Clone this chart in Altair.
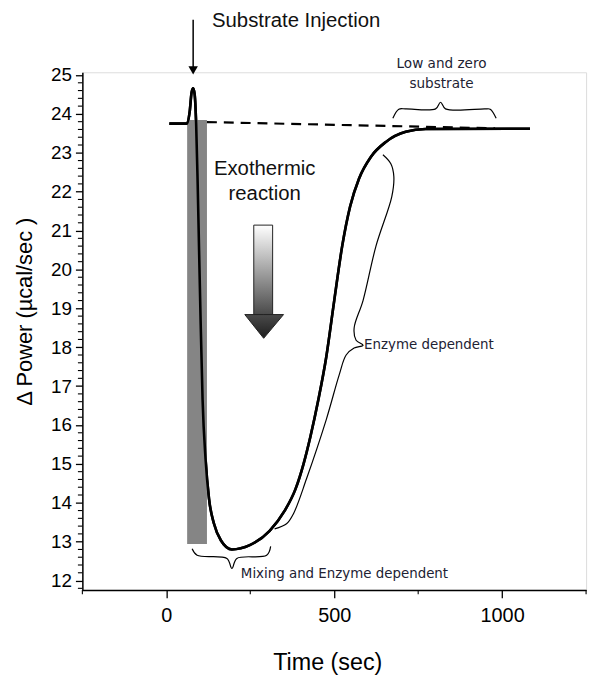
import altair as alt
import pandas as pd
import numpy as np

# ---------------- data ----------------
time_s = [9, 62, 69.5, 75.4, 79.9, 84.3, 88.8, 93.2, 97.6, 102.1, 108.0, 116.9, 127.2,
          142.0, 162.7, 195.3, 248.5, 307.7, 352.1, 384.6, 408.3, 429.0, 452.7, 476.3, 500,
          523.7, 547.3, 574.0, 609.5, 653.8, 713, 772.2, 1083]
power = [23.75, 23.75, 24.05, 24.56, 24.66, 24.51, 23.75, 22.26, 20.48, 18.69, 16.65, 15.12,
         14.10, 13.46, 13.03, 12.80, 12.91, 13.28, 13.79, 14.35, 14.99, 15.70, 16.65, 17.75,
         19.20, 20.60, 21.62, 22.34, 22.90, 23.28, 23.54, 23.61, 23.62]

baseline_t = [121, 979]
baseline_p = [23.79, 23.63]

mix_bar_t = [62, 121]
mix_bar_p = [12.94, 23.84]

brace_low_t = [674.6, 692.3, 713, 801.8, 816.6, 831.4, 949.7, 964.5, 982.2]
brace_low_p = [23.89, 24.12, 24.13, 24.13, 24.30, 24.13, 24.13, 24.12, 23.89]

brace_mix_t = [76.9, 91.7, 180.5, 195.3, 210.1, 298.8, 310.7]
brace_mix_p = [12.82, 12.65, 12.57, 12.31, 12.57, 12.65, 12.88]

brace_enz_t = [645, 668.6, 677.5, 671.6, 624.3, 585.8, 559.2, 565.1, 585.8,
               559.2, 535.5, 514.8, 476.3, 417.2, 378.7, 358, 322.5]
brace_enz_p = [22.95, 22.72, 22.39, 21.88, 20.60, 19.20, 18.49, 18.18, 18.05,
               17.98, 17.80, 17.29, 16.14, 14.61, 13.72, 13.46, 13.33]

inj_t = [79.9, 79.9]
inj_p = [26.42, 25.12]

exo_body_t = [260.4, 316.6]
exo_body_p = [18.84, 21.14]
exo_head_t = [233.7, 289.9, 349.1]
exo_head_top = [18.84, 18.84, 18.84]
exo_head_tip = [18.84, 18.23, 18.84]

Y_DOMAIN = [11.76, 25.07]
X_DOMAIN = [-250, 1250]
y_major = list(range(12, 26))
x_major = [0, 500, 1000]
x_minor = [-250, 250, 750, 1250]
y_minor = [round(v, 1) for v in np.arange(11.8, 25.05, 0.2) if abs(v - round(v)) > 0.05]

# ---------------- styling ----------------
W, H = 508, 522
LABEL_FONT = "Liberation Sans Narrow, Arial Narrow, Liberation Sans"
MAIN_FONT = "Liberation Sans, Arial"
NOTE_FONT = "DejaVu Sans"
MINOR_LEN = 4.5

xs = alt.Scale(domain=X_DOMAIN, nice=False, zero=False)
ys = alt.Scale(domain=Y_DOMAIN, nice=False, zero=False)
X_PER_PX = (X_DOMAIN[1] - X_DOMAIN[0]) / W
Y_PER_PX = (Y_DOMAIN[1] - Y_DOMAIN[0]) / H

curve_df = pd.DataFrame({"t": time_s, "p": power})
main = alt.Chart(curve_df).mark_line(color="black", strokeWidth=2.6, interpolate="monotone").encode(
    x=alt.X("t:Q", scale=xs, axis=alt.Axis(
        values=x_major, format="d", title="Time (sec)", titleFont=MAIN_FONT, titleFontSize=23.5,
        titleFontWeight="normal", titleColor="black", titleX=247, titleY=73, titleBaseline="middle",
        labelFont=LABEL_FONT, labelFontSize=20, labelColor="black", labelPadding=8,
        tickSize=8, tickColor="black", tickWidth=1.3, domainColor="black", domainWidth=1.5,
        grid=False)),
    y=alt.Y("p:Q", scale=ys, axis=alt.Axis(
        values=y_major, title="Δ Power (µcal/sec )", titleFont=MAIN_FONT, titleFontSize=22,
        titleFontWeight="normal", titleColor="black", titleX=-46, titleY=241,
        titleBaseline="bottom", titleAngle=-90,
        labelFont=LABEL_FONT, labelFontSize=19, labelColor="black", labelPadding=4,
        tickSize=7, tickColor="black", tickWidth=1.3, domainColor="black", domainWidth=1.5,
        grid=False)),
)

bar = alt.Chart(pd.DataFrame({"t": [mix_bar_t[0]], "t2": [mix_bar_t[1]],
                              "p": [mix_bar_p[0]], "p2": [mix_bar_p[1]]})).mark_rect(
    color="#858585").encode(x=alt.X("t:Q", scale=xs), x2="t2:Q",
                            y=alt.Y("p:Q", scale=ys), y2="p2:Q")

base = alt.Chart(pd.DataFrame({"t": baseline_t, "p": baseline_p})).mark_line(
    color="black", strokeWidth=2.2, strokeDash=[10, 7]).encode(
    x=alt.X("t:Q", scale=xs), y=alt.Y("p:Q", scale=ys))


def brace(ts, ps):
    df = pd.DataFrame({"t": ts, "p": ps, "o": list(range(len(ts)))})
    return alt.Chart(df).mark_line(color="black", strokeWidth=1.2, interpolate="catmull-rom").encode(
        x=alt.X("t:Q", scale=xs), y=alt.Y("p:Q", scale=ys), order="o:Q")


b1 = brace(brace_low_t, brace_low_p)
b2 = brace(brace_mix_t, brace_mix_p)
b3 = brace(brace_enz_t, brace_enz_p)

inj_line = alt.Chart(pd.DataFrame({"t": [inj_t[0]], "p": [inj_p[0]], "p2": [inj_p[1]]})).mark_rule(
    color="black", strokeWidth=1.5).encode(x=alt.X("t:Q", scale=xs), y=alt.Y("p:Q", scale=ys), y2="p2:Q")
inj_head = alt.Chart(pd.DataFrame({"t": [inj_t[1]], "p": [inj_p[1]]})).mark_point(
    shape="triangle-down", filled=True, color="black", size=90, opacity=1).encode(
    x=alt.X("t:Q", scale=xs), y=alt.Y("p:Q", scale=ys))

body_grad = alt.LinearGradient(gradient="linear", stops=[
    alt.GradientStop(offset=0, color="#ffffff"), alt.GradientStop(offset=1, color="#4a4a4a")],
    x1=0, x2=0, y1=0, y2=1)
head_grad = alt.LinearGradient(gradient="linear", stops=[
    alt.GradientStop(offset=0, color="#4a4a4a"), alt.GradientStop(offset=1, color="#1e1e1e")],
    x1=0, x2=0, y1=0, y2=1)

exo_body = alt.Chart(pd.DataFrame({"t": [exo_body_t[0]], "t2": [exo_body_t[1]],
                                   "p": [exo_body_p[0]], "p2": [exo_body_p[1]]})).mark_rect(
    fill=body_grad, stroke="#222222", strokeWidth=1).encode(
    x=alt.X("t:Q", scale=xs), x2="t2:Q", y=alt.Y("p:Q", scale=ys), y2="p2:Q")
exo_head = alt.Chart(pd.DataFrame({"t": exo_head_t, "p": exo_head_top, "p2": exo_head_tip})).mark_area(
    fill=head_grad, stroke="#222222", strokeWidth=1, orient="vertical", opacity=1).encode(
    x=alt.X("t:Q", scale=xs), y=alt.Y("p:Q", scale=ys), y2="p2:Q")

big_txt = pd.DataFrame({"t": [136, 292.9, 292.9], "p": [26.40, 22.57, 21.93],
                        "txt": ["Substrate Injection", "Exothermic", "reaction"]})
big_left = alt.Chart(big_txt.iloc[[0]]).mark_text(font=MAIN_FONT, fontSize=20.5, align="left",
                                                  baseline="middle", color="#111111").encode(
    x=alt.X("t:Q", scale=xs), y=alt.Y("p:Q", scale=ys), text="txt:N")
big_center = alt.Chart(big_txt.iloc[[1, 2]]).mark_text(font=MAIN_FONT, fontSize=20.5, align="center",
                                                       baseline="middle", color="#111111").encode(
    x=alt.X("t:Q", scale=xs), y=alt.Y("p:Q", scale=ys), text="txt:N")

note_c = alt.Chart(pd.DataFrame({"t": [819.5, 819.5], "p": [25.27, 24.76],
                                 "txt": ["Low and zero", "substrate"]})).mark_text(
    font=NOTE_FONT, fontSize=13.7, align="center", baseline="middle", color="#222233").encode(
    x=alt.X("t:Q", scale=xs), y=alt.Y("p:Q", scale=ys), text="txt:N")
note_l = alt.Chart(pd.DataFrame({"t": [588.8, 221.9], "p": [18.05, 12.16],
                                 "txt": ["Enzyme dependent", "Mixing and Enzyme dependent"]})).mark_text(
    font=NOTE_FONT, fontSize=13.5, align="left", baseline="middle", color="#222233").encode(
    x=alt.X("t:Q", scale=xs), y=alt.Y("p:Q", scale=ys), text="txt:N")

# minor ticks: short rules just outside the axes
ymin_df = pd.DataFrame({"p": y_minor,
                        "a": [X_DOMAIN[0] - MINOR_LEN * X_PER_PX] * len(y_minor),
                        "b": [X_DOMAIN[0]] * len(y_minor)})
ymin = alt.Chart(ymin_df).mark_rule(color="black", strokeWidth=1.1).encode(
    y=alt.Y("p:Q", scale=ys), x=alt.X("a:Q", scale=xs), x2="b:Q")
xmin_df = pd.DataFrame({"t": x_minor,
                        "a": [Y_DOMAIN[0]] * len(x_minor),
                        "b": [Y_DOMAIN[0] - MINOR_LEN * Y_PER_PX] * len(x_minor)})
xmin = alt.Chart(xmin_df).mark_rule(color="black", strokeWidth=1.1).encode(
    x=alt.X("t:Q", scale=xs), y=alt.Y("a:Q", scale=ys), y2="b:Q")

chart = alt.layer(
    main, bar, base, b1, b2, b3, inj_line, inj_head, exo_body, exo_head,
    big_left, big_center, note_c, note_l, ymin, xmin, main.mark_line(
        color="black", strokeWidth=2.6, interpolate="monotone")
).properties(
    width=W, height=H,
    autosize=alt.AutoSizeParams(type="none"),
    padding={"left": 75, "top": 62, "right": 10, "bottom": 83},
).configure_view(stroke=None).configure(background="white")

chart.save("out.html", embed_options={"renderer": "svg", "actions": False})
